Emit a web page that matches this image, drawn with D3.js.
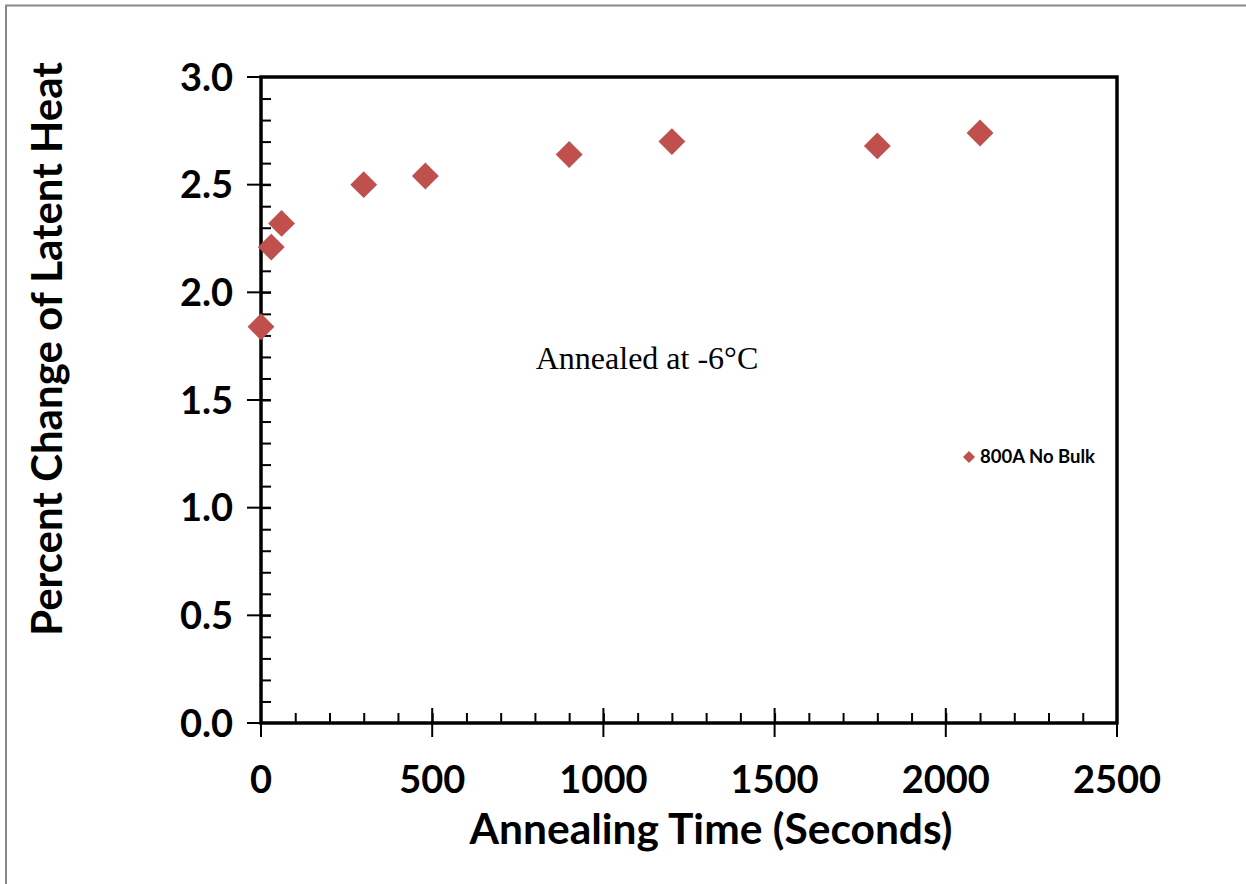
<!DOCTYPE html>
<html>
<head>
<meta charset="utf-8">
<script src="https://cdn.jsdelivr.net/npm/d3@7"></script>
<style>
  body { margin: 0; background: #fff; }
  svg { display: block; }
</style>
</head>
<body>
<div id="chart"></div>
<script>
// annealing time (s) and percent change of latent heat
const annealTimes = [0, 30, 60, 300, 480, 900, 1200, 1800, 2100];
const latentHeatChange = [1.84, 2.21, 2.32, 2.50, 2.54, 2.64, 2.70, 2.68, 2.74];
const xTicks = [0, 500, 1000, 1500, 2000, 2500];
const yTicks = [0.0, 0.5, 1.0, 1.5, 2.0, 2.5, 3.0];
const seriesName = "800A No Bulk";

const W = 1246, H = 884;
const margin = { top: 77, right: 129, bottom: 161, left: 261 };
const width = W - margin.left - margin.right;
const height = H - margin.top - margin.bottom;
const red = "#C0504D";
const font = "Lato, 'Open Sans', sans-serif";

const svg = d3.select("#chart").append("svg")
    .attr("width", W)
    .attr("height", H);

// outer frame (only left/top visible)
svg.append("path")
    .attr("d", "M6,884 V5.5 H1246")
    .attr("fill", "none")
    .attr("stroke", "#878787")
    .attr("stroke-width", 2);

const g = svg.append("g")
    .attr("transform", "translate(" + margin.left + "," + margin.top + ")");

let x = d3.scaleLinear().domain([0, 2500]).range([0, width]);
let y = d3.scaleLinear().domain([0, 3]).range([height, 0]);

// minor ticks (inside)
g.append("g")
    .attr("transform", "translate(0," + height + ")")
    .call(d3.axisTop(x).tickValues(d3.range(100, 2500, 100)).tickSize(10).tickFormat(""))
    .call(a => a.select(".domain").remove())
    .selectAll("line").attr("stroke", "#000").attr("stroke-width", 2);

g.append("g")
    .call(d3.axisRight(y).tickValues(d3.range(1, 30).map(d => d / 10)).tickSize(10).tickFormat(""))
    .call(a => a.select(".domain").remove())
    .selectAll("line").attr("stroke", "#000").attr("stroke-width", 2);

// major ticks - crossing axis
g.append("g").selectAll("line")
    .data(xTicks)
    .join("line")
    .attr("x1", d => x(d)).attr("x2", d => x(d))
    .attr("y1", height - 15).attr("y2", height + 14)
    .attr("stroke", "#000").attr("stroke-width", 2);

g.append("g").selectAll("line")
    .data(yTicks)
    .join("line")
    .attr("x1", -14).attr("x2", 10)
    .attr("y1", d => y(d)).attr("y2", d => y(d))
    .attr("stroke", "#000").attr("stroke-width", 2);

// tick labels
g.append("g").selectAll("text")
    .data(xTicks)
    .join("text")
    .attr("x", d => x(d))
    .attr("y", height + 70)
    .attr("text-anchor", "middle")
    .attr("font-family", font)
    .attr("font-weight", "bold")
    .attr("font-size", 38)
    .text(d => d);

g.append("g").selectAll("text")
    .data(yTicks)
    .join("text")
    .attr("x", -28)
    .attr("y", d => y(d))
    .attr("dy", "0.36em")
    .attr("text-anchor", "end")
    .attr("font-family", font)
    .attr("font-weight", "bold")
    .attr("font-size", 38)
    .text(d => d.toFixed(1));

// plot frame
g.append("rect")
    .attr("width", width)
    .attr("height", height)
    .attr("fill", "none")
    .attr("stroke", "#000")
    .attr("stroke-width", 3.5);

// points
let diamond = d3.symbol().type(d3.symbolSquare).size(361);
g.append("g").selectAll("path")
    .data(annealTimes.map((t, i) => ({ t: t, v: latentHeatChange[i] })))
    .join("path")
    .attr("d", diamond)
    .attr("transform", d => "translate(" + x(d.t) + "," + y(d.v) + ") rotate(45)")
    .attr("fill", red);

// annotation
svg.append("text")
    .attr("x", 647)
    .attr("y", 369)
    .attr("text-anchor", "middle")
    .attr("font-family", "'Liberation Serif', 'Times New Roman', serif")
    .attr("font-size", 32)
    .text("Annealed at -6\u00B0C");

// legend
svg.append("path")
    .attr("d", d3.symbol().type(d3.symbolSquare).size(72))
    .attr("transform", "translate(969,457) rotate(45)")
    .attr("fill", red);
svg.append("text")
    .attr("x", 980)
    .attr("y", 463)
    .attr("font-family", font)
    .attr("font-weight", "bold")
    .attr("font-size", 18.5)
    .text(seriesName);

// axis titles
svg.append("text")
    .attr("x", 711)
    .attr("y", 844)
    .attr("text-anchor", "middle")
    .attr("font-family", font)
    .attr("font-weight", "bold")
    .attr("font-size", 42.5)
    .text("Annealing Time (Seconds)");

svg.append("text")
    .attr("transform", "translate(62,349) rotate(-90)")
    .attr("text-anchor", "middle")
    .attr("font-family", font)
    .attr("font-weight", "bold")
    .attr("font-size", 42)
    .text("Percent Change of Latent Heat");
</script>
</body>
</html>
